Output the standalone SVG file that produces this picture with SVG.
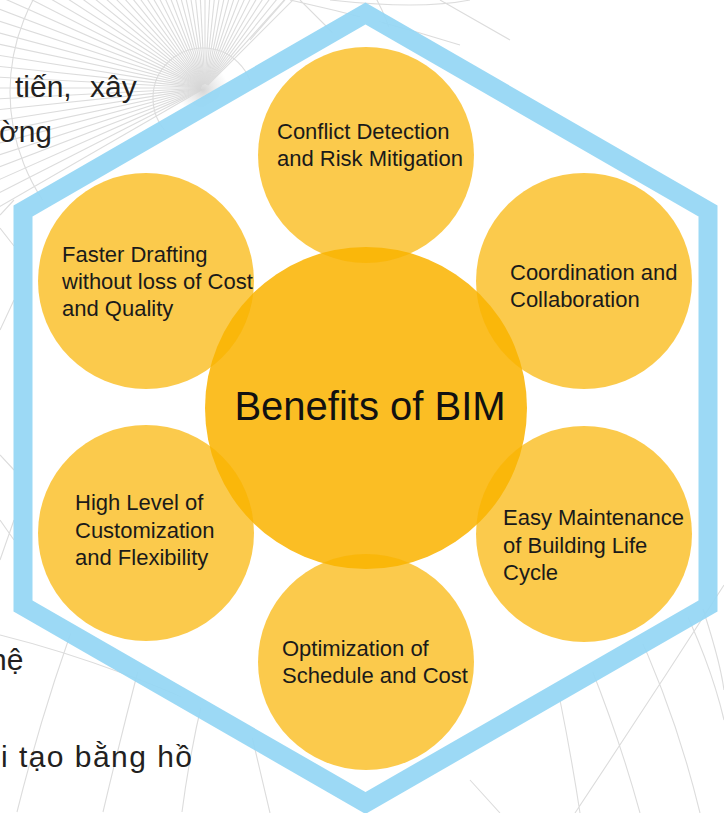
<svg xmlns="http://www.w3.org/2000/svg" xmlns:xlink="http://www.w3.org/1999/xlink" width="724" height="813" viewBox="0 0 724 813">
<style>
.bg{stroke:#dcdcdc;stroke-width:1.1;fill:none}
.hexfill{fill:#ffffff;stroke:none}
.hex{fill:none;stroke:#94d6f4;stroke-width:19;stroke-opacity:0.92;stroke-linejoin:miter}
.outer{fill:#fab300;fill-opacity:0.70}
.center{fill:#fbbe24}
.lbl{font-family:"Liberation Sans",Arial,sans-serif;font-size:22px;fill:#1a1a1a}
.title{font-family:"Liberation Sans",Arial,sans-serif;font-size:40px;fill:#111111}
.vn{font-family:"Liberation Sans",Arial,sans-serif;font-size:30px;fill:#231f20}
</style>
<defs>
<line id="ray" x1="4" y1="0" x2="420" y2="0"/>
<radialGradient id="glow" cx="0.5" cy="0.5" r="0.5">
<stop offset="0" stop-color="#d0d0d0" stop-opacity="0.9"/>
<stop offset="0.5" stop-color="#dcdcdc" stop-opacity="0.5"/>
<stop offset="1" stop-color="#e0e0e0" stop-opacity="0"/>
</radialGradient>
</defs>
<rect width="724" height="813" fill="#ffffff"/>
<g id="background">
<g class="bg" transform="translate(205,88)">
<use xlink:href="#ray" transform="rotate(-45)"/><use xlink:href="#ray" transform="rotate(-48)"/><use xlink:href="#ray" transform="rotate(-51)"/><use xlink:href="#ray" transform="rotate(-54)"/><use xlink:href="#ray" transform="rotate(-57)"/><use xlink:href="#ray" transform="rotate(-60)"/><use xlink:href="#ray" transform="rotate(-63)"/><use xlink:href="#ray" transform="rotate(-66)"/><use xlink:href="#ray" transform="rotate(-69)"/><use xlink:href="#ray" transform="rotate(-72)"/><use xlink:href="#ray" transform="rotate(-75)"/><use xlink:href="#ray" transform="rotate(-78)"/><use xlink:href="#ray" transform="rotate(-81)"/><use xlink:href="#ray" transform="rotate(-84)"/><use xlink:href="#ray" transform="rotate(-87)"/><use xlink:href="#ray" transform="rotate(-90)"/><use xlink:href="#ray" transform="rotate(-93)"/><use xlink:href="#ray" transform="rotate(-96)"/><use xlink:href="#ray" transform="rotate(-99)"/><use xlink:href="#ray" transform="rotate(-102)"/><use xlink:href="#ray" transform="rotate(-105)"/><use xlink:href="#ray" transform="rotate(-108)"/><use xlink:href="#ray" transform="rotate(-111)"/><use xlink:href="#ray" transform="rotate(-114)"/><use xlink:href="#ray" transform="rotate(-117)"/><use xlink:href="#ray" transform="rotate(-120)"/><use xlink:href="#ray" transform="rotate(-123)"/><use xlink:href="#ray" transform="rotate(-126)"/><use xlink:href="#ray" transform="rotate(-129)"/><use xlink:href="#ray" transform="rotate(-132)"/><use xlink:href="#ray" transform="rotate(-135)"/><use xlink:href="#ray" transform="rotate(-138)"/><use xlink:href="#ray" transform="rotate(-141)"/><use xlink:href="#ray" transform="rotate(-144)"/><use xlink:href="#ray" transform="rotate(-147)"/><use xlink:href="#ray" transform="rotate(-150)"/><use xlink:href="#ray" transform="rotate(-153)"/><use xlink:href="#ray" transform="rotate(-156)"/><use xlink:href="#ray" transform="rotate(-159)"/><use xlink:href="#ray" transform="rotate(-162)"/><use xlink:href="#ray" transform="rotate(-165)"/><use xlink:href="#ray" transform="rotate(-168)"/><use xlink:href="#ray" transform="rotate(-171)"/><use xlink:href="#ray" transform="rotate(-174)"/><use xlink:href="#ray" transform="rotate(-177)"/><use xlink:href="#ray" transform="rotate(-180)"/><use xlink:href="#ray" transform="rotate(-183)"/><use xlink:href="#ray" transform="rotate(-186)"/><use xlink:href="#ray" transform="rotate(-189)"/><use xlink:href="#ray" transform="rotate(-192)"/><use xlink:href="#ray" transform="rotate(-195)"/><use xlink:href="#ray" transform="rotate(-198)"/><use xlink:href="#ray" transform="rotate(-201)"/><use xlink:href="#ray" transform="rotate(-204)"/><use xlink:href="#ray" transform="rotate(-207)"/><use xlink:href="#ray" transform="rotate(-210)"/>
</g>
<circle cx="203" cy="90" r="26" fill="url(#glow)"/>
<circle class="bg" cx="203" cy="98" r="50"/>
<circle class="bg" cx="205" cy="92" r="195"/>
<path class="bg" d="M250,40 L285,0 M290,0 Q380,20 460,45 M330,0 Q420,10 470,0 M300,0 Q330,30 360,60 M440,0 L510,40"/>
<path class="bg" d="M0,215 L14,200 M0,228 L14,246 M0,330 L14,300 M0,455 L14,470 M0,520 L14,540 M0,560 L14,520"/>
<path class="bg" d="M0,635 Q120,665 250,728 M17,812 Q45,700 83,600 M103,812 Q120,740 140,663 M182,812 Q190,750 205,690 M250,728 L270,813"/>
<path class="bg" d="M560,700 Q572,760 580,813 M590,665 Q620,740 640,813 M632,620 Q675,710 700,813 M675,590 Q710,660 724,720 M724,585 Q650,700 575,813 M700,600 Q720,660 724,690 M470,780 L500,813"/>
</g>
<g id="hexagon">
<polygon class="hexfill" points="365.5,13.5 708,211 708,606 365.5,803 23,606 23,211"/>
<polygon class="hex" points="365.5,13.5 708,211 708,606 365.5,803 23,606 23,211"/>
</g>
<g id="benefits-of-bim">
<circle class="center" cx="366" cy="408" r="161"/>
<text class="title" x="370" y="420" text-anchor="middle">Benefits of BIM</text>
</g>
<g id="conflict-detection">
<circle class="outer" cx="366" cy="155" r="108"/>
<text class="lbl" x="277" y="139">Conflict Detection</text>
<text class="lbl" x="277" y="166">and Risk Mitigation</text>
</g>
<g id="faster-drafting">
<circle class="outer" cx="146" cy="281" r="108"/>
<text class="lbl" x="62" y="262">Faster Drafting</text>
<text class="lbl" x="62" y="289">without loss of Cost</text>
<text class="lbl" x="62" y="316">and Quality</text>
</g>
<g id="coordination">
<circle class="outer" cx="584" cy="281" r="108"/>
<text class="lbl" x="510" y="280">Coordination and</text>
<text class="lbl" x="510" y="307">Collaboration</text>
</g>
<g id="customization">
<circle class="outer" cx="146" cy="533" r="108"/>
<text class="lbl" x="75" y="510">High Level of</text>
<text class="lbl" x="75" y="538">Customization</text>
<text class="lbl" x="75" y="565">and Flexibility</text>
</g>
<g id="maintenance">
<circle class="outer" cx="584" cy="534" r="108"/>
<text class="lbl" x="503" y="525">Easy Maintenance</text>
<text class="lbl" x="503" y="552.5">of Building Life</text>
<text class="lbl" x="503" y="580">Cycle</text>
</g>
<g id="optimization">
<circle class="outer" cx="366" cy="662" r="108"/>
<text class="lbl" x="282" y="656">Optimization of</text>
<text class="lbl" x="282" y="683">Schedule and Cost</text>
</g>
<g id="page-text">
<text class="vn" x="15" y="97">tiến,</text>
<text class="vn" x="90" y="97">xây</text>
<text class="vn" x="-1" y="142">ờng</text>
<text class="vn" x="-10" y="670">nệ</text>
<text class="vn" x="1" y="767" textLength="191" lengthAdjust="spacing">i tạo bằng hồ</text>
</g>
</svg>
